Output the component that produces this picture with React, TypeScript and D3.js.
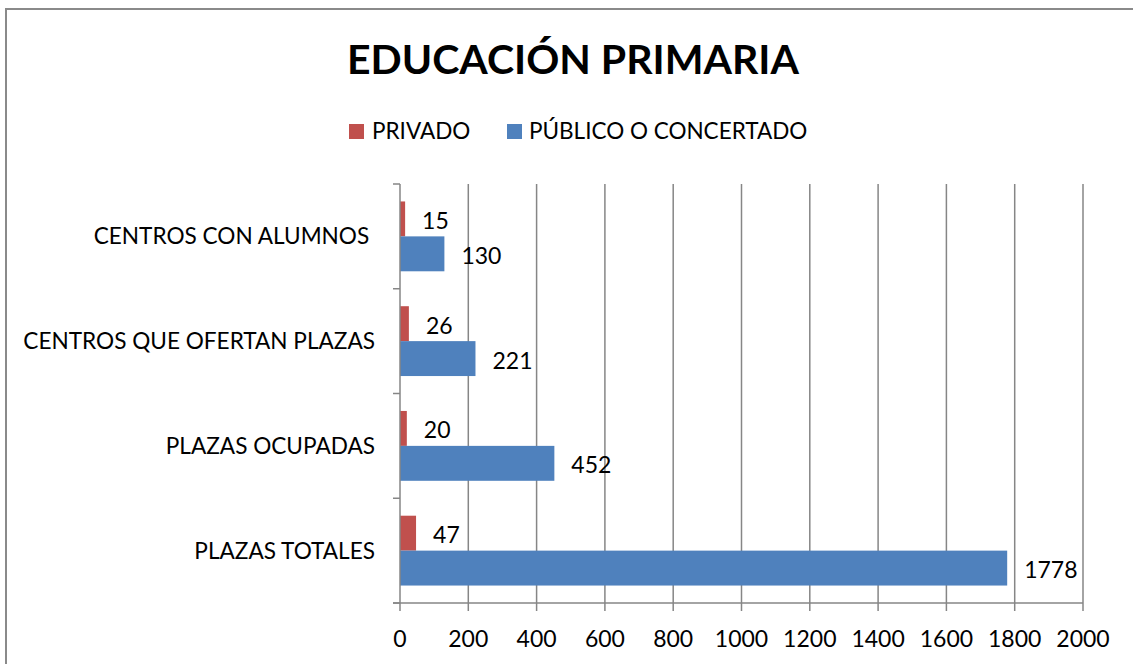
import React from "react";
import * as d3 from "d3";

const categories = [
  "CENTROS CON ALUMNOS ",
  "CENTROS QUE OFERTAN PLAZAS",
  "PLAZAS OCUPADAS",
  "PLAZAS TOTALES",
];
const seriesNames = ["PRIVADO", "PÚBLICO O CONCERTADO"];
const privado = [15, 26, 20, 47];
const publico = [130, 221, 452, 1778];
const xTicks = [0, 200, 400, 600, 800, 1000, 1200, 1400, 1600, 1800, 2000];
const colors = ["#C0504D", "#4F81BD"];

const W = 1133;
const H = 664;
const FONT = "Lato, 'Open Sans', sans-serif";
const GRID = "#868686";

export default function App() {
  const x = d3.scaleLinear().domain([0, 2000]).range([400, 1083]);
  const y = d3.scaleBand<string>().domain(categories).range([184, 603]).padding(0);
  const bw = y.bandwidth();
  const inner = d3
    .scaleBand<string>()
    .domain(seriesNames)
    .range([bw / 6, (bw * 5) / 6])
    .padding(0);
  const values = [privado, publico];
  const boundaries = categories.map((c) => y(c) as number).concat([603]);

  return (
    <svg
      width={W}
      height={H}
      style={{ position: "absolute", left: 0, top: 0, background: "#fff" }}
      fontFamily={FONT}
    >
      <rect x={0} y={0} width={W} height={H} fill="#fff" />
      <rect x={6} y={9} width={W + 20} height={H + 20} fill="none" stroke="#8a8a8a" strokeWidth={2} />
      <text x={573} y={73.5} textAnchor="middle" fontWeight="bold" fontSize={41} fill="#000">
        EDUCACIÓN PRIMARIA
      </text>
      {/* legend */}
      <g>
        <rect x={349} y={124} width={15} height={15} fill={colors[0]} />
        <text x={372} y={138.5} fontSize={22.5} fill="#000">{seriesNames[0]}</text>
        <rect x={507} y={124} width={15} height={15} fill={colors[1]} />
        <text x={529} y={138.5} fontSize={22.5} fill="#000">{seriesNames[1]}</text>
      </g>
      {/* gridlines */}
      {xTicks.slice(1).map((t) => (
        <line key={"g" + t} x1={x(t)} x2={x(t)} y1={184} y2={603} stroke={GRID} strokeWidth={1.5} />
      ))}
      {/* bars */}
      {categories.map((c, i) =>
        seriesNames.map((s, j) => {
          const v = values[j][i];
          const by = (y(c) as number) + (inner(s) as number);
          const bh = inner.bandwidth();
          return (
            <g key={c + s}>
              <rect x={x(0)} y={by} width={x(v) - x(0)} height={bh} fill={colors[j]} />
              <text x={x(v) + 17} y={by + bh / 2 + 10} fontSize={23} fill="#000">
                {v}
              </text>
            </g>
          );
        })
      )}
      {/* axes */}
      <line x1={400} x2={400} y1={184} y2={603} stroke={GRID} strokeWidth={1.5} />
      {boundaries.map((b, i) => (
        <line key={"yt" + i} x1={393} x2={400} y1={b} y2={b} stroke={GRID} strokeWidth={1.5} />
      ))}
      <line x1={393} x2={1083} y1={603} y2={603} stroke={GRID} strokeWidth={1.5} />
      {xTicks.map((t) => (
        <g key={"xt" + t}>
          <line x1={x(t)} x2={x(t)} y1={603} y2={611} stroke={GRID} strokeWidth={1.5} />
          <text x={x(t)} y={647} textAnchor="middle" fontSize={23} fill="#000">
            {t}
          </text>
        </g>
      ))}
      {categories.map((c) => (
        <text
          key={"cl" + c}
          x={375}
          y={(y(c) as number) + bw / 2 + 8}
          textAnchor="end"
          fontSize={22.6}
          fill="#000"
          style={{ whiteSpace: "pre" }}
        >
          {c}
        </text>
      ))}
    </svg>
  );
}
